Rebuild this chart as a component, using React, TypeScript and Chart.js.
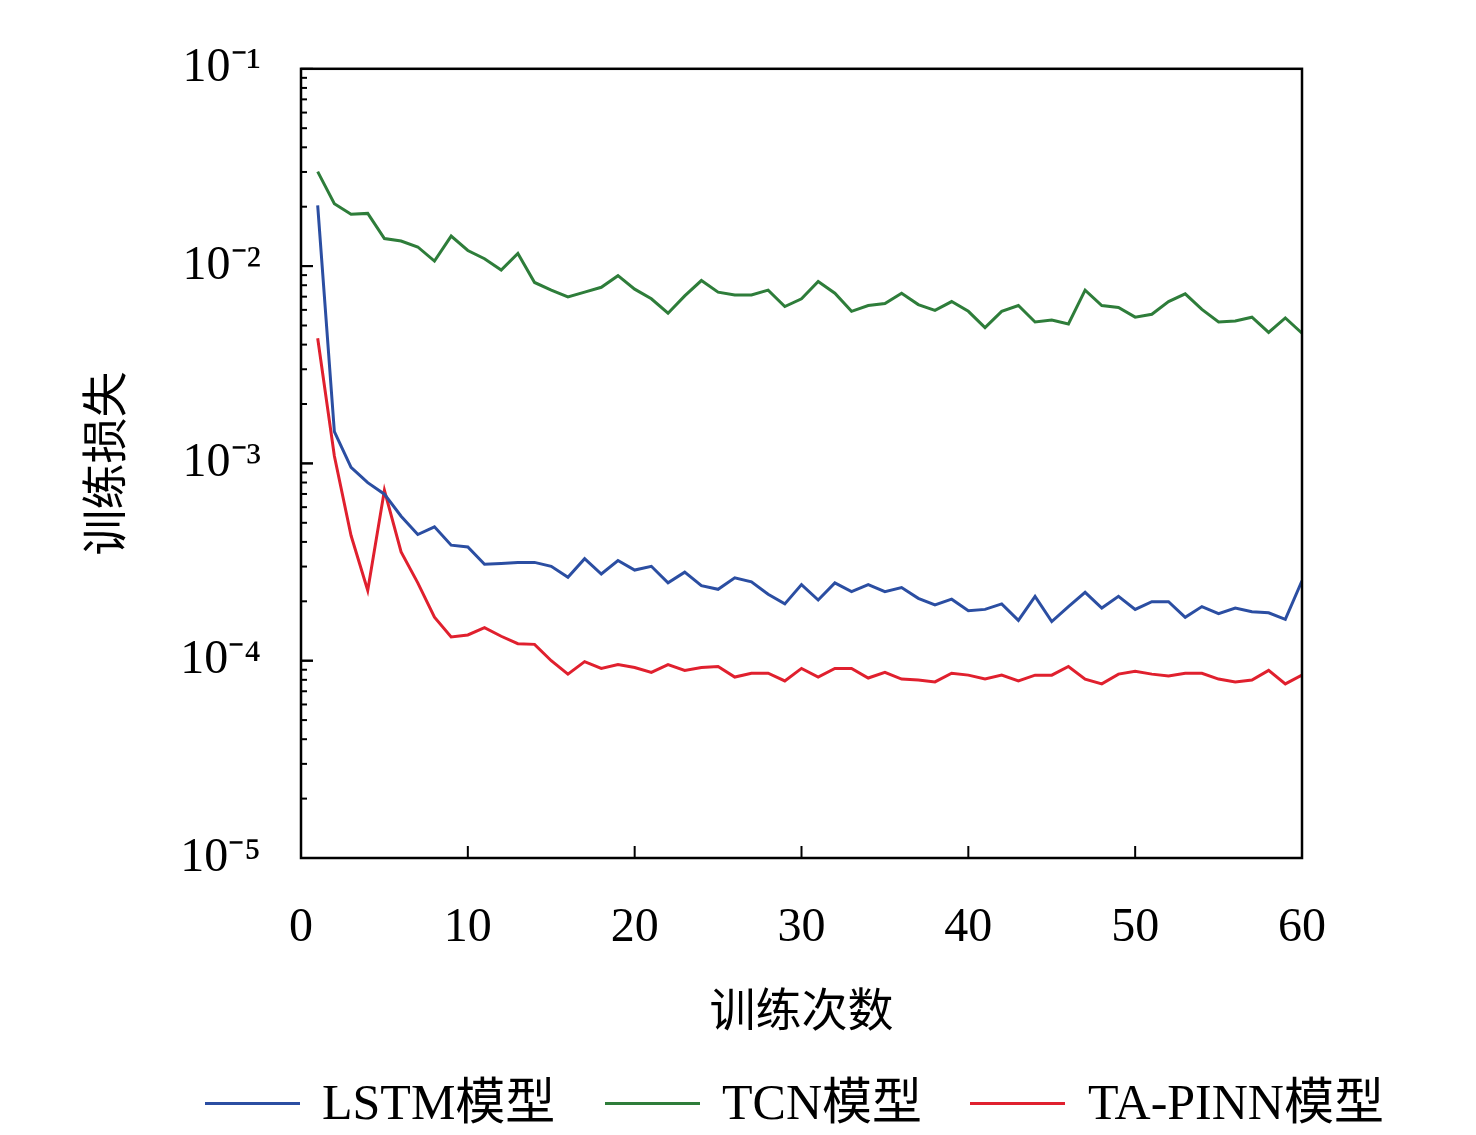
import React, { useEffect, useRef } from "react";
import { Chart, registerables } from "chart.js";
Chart.register(...registerables);

const epochs = Array.from({ length: 60 }, (_, i) => i + 1);
const lstm = [2.03e-2,1.45e-3,9.55e-4,7.99e-4,6.98e-4,5.4e-4,4.36e-4,4.77e-4,3.85e-4,3.77e-4,3.08e-4,3.11e-4,3.15e-4,3.15e-4,3.01e-4,2.65e-4,3.29e-4,2.75e-4,3.22e-4,2.88e-4,3.01e-4,2.48e-4,2.81e-4,2.4e-4,2.3e-4,2.63e-4,2.51e-4,2.17e-4,1.94e-4,2.43e-4,2.03e-4,2.48e-4,2.24e-4,2.43e-4,2.24e-4,2.35e-4,2.07e-4,1.92e-4,2.05e-4,1.79e-4,1.82e-4,1.94e-4,1.6e-4,2.12e-4,1.58e-4,1.88e-4,2.22e-4,1.85e-4,2.12e-4,1.82e-4,1.99e-4,1.99e-4,1.66e-4,1.88e-4,1.73e-4,1.85e-4,1.77e-4,1.75e-4,1.62e-4,2.54e-4];
const tcn = [3.01e-2,2.07e-2,1.83e-2,1.85e-2,1.38e-2,1.34e-2,1.25e-2,1.06e-2,1.42e-2,1.2e-2,1.09e-2,9.55e-3,1.16e-2,8.26e-3,7.55e-3,6.98e-3,7.38e-3,7.81e-3,8.94e-3,7.64e-3,6.83e-3,5.77e-3,7.06e-3,8.45e-3,7.38e-3,7.14e-3,7.14e-3,7.55e-3,6.24e-3,6.83e-3,8.36e-3,7.29e-3,5.9e-3,6.31e-3,6.46e-3,7.29e-3,6.38e-3,5.97e-3,6.61e-3,5.9e-3,4.88e-3,5.9e-3,6.31e-3,5.21e-3,5.33e-3,5.09e-3,7.55e-3,6.31e-3,6.17e-3,5.51e-3,5.7e-3,6.61e-3,7.23e-3,6.03e-3,5.21e-3,5.27e-3,5.51e-3,4.61e-3,5.46e-3,4.57e-3];
const tapinn = [4.31e-3,1.09e-3,4.31e-4,2.27e-4,7.3e-4,3.56e-4,2.48e-4,1.66e-4,1.32e-4,1.35e-4,1.47e-4,1.33e-4,1.22e-4,1.21e-4,1.0e-4,8.55e-5,9.89e-5,9.14e-5,9.55e-5,9.24e-5,8.73e-5,9.55e-5,8.93e-5,9.24e-5,9.35e-5,8.26e-5,8.64e-5,8.64e-5,7.9e-5,9.14e-5,8.26e-5,9.14e-5,9.14e-5,8.17e-5,8.73e-5,8.07e-5,7.98e-5,7.81e-5,8.64e-5,8.45e-5,8.07e-5,8.45e-5,7.9e-5,8.45e-5,8.45e-5,9.35e-5,8.07e-5,7.63e-5,8.55e-5,8.83e-5,8.55e-5,8.36e-5,8.64e-5,8.64e-5,8.07e-5,7.81e-5,7.98e-5,8.93e-5,7.63e-5,8.45e-5];
const seriesNames = ["LSTM模型", "TCN模型", "TA-PINN模型"];
const colors = ["#2b4ea2", "#2e7d3a", "#e0202e"];
const yMajor: Record<string, string> = { "0.1": "10⁻¹", "0.01": "10⁻²", "0.001": "10⁻³", "0.0001": "10⁻⁴", "0.00001": "10⁻⁵" };

const serif = "'Liberation Serif', 'Noto Sans CJK SC', serif";

const boxPlugin = {
  id: "box",
  afterDraw(chart: any) {
    const { ctx, chartArea: a, scales } = chart;
    ctx.save();
    ctx.strokeStyle = "#000";
    ctx.lineWidth = 2.5;
    ctx.strokeRect(a.left, a.top, a.right - a.left, a.bottom - a.top);
    ctx.lineWidth = 2;
    const y = scales.y;
    for (let e = -5; e < -1; e++) {
      for (let m = 1; m <= 10; m++) {
        const v = m * Math.pow(10, e);
        const py = y.getPixelForValue(v);
        const len = m === 1 || m === 10 ? 12 : 6;
        ctx.beginPath();
        ctx.moveTo(a.left, py);
        ctx.lineTo(a.left + len, py);
        ctx.stroke();
      }
    }
    const x = scales.x;
    for (let v = 10; v < 60; v += 10) {
      const px = x.getPixelForValue(v);
      ctx.beginPath();
      ctx.moveTo(px, a.bottom);
      ctx.lineTo(px, a.bottom - 12);
      ctx.stroke();
    }
    ctx.restore();
  },
};

export default function App() {
  const ref = useRef<HTMLCanvasElement>(null);
  useEffect(() => {
    const series = [lstm, tcn, tapinn];
    const chart = new Chart(ref.current!, {
      type: "line",
      data: {
        datasets: series.map((s, i) => ({
          label: seriesNames[i],
          data: s.map((v, j) => ({ x: epochs[j], y: v })),
          borderColor: colors[i],
          borderWidth: 3,
          pointRadius: 0,
          tension: 0,
        })),
      },
      options: {
        responsive: false,
        animation: false,
        layout: { padding: { left: 0, right: 174, top: 10, bottom: 77 } },
        plugins: { legend: { display: false }, tooltip: { enabled: false } },
        scales: {
          x: {
            type: "linear",
            min: 0,
            max: 60,
            grid: { display: false, drawTicks: false },
            border: { display: false },
            ticks: { stepSize: 10, padding: 42, color: "#000", font: { family: serif, size: 48 } },
            title: { display: true, text: "训练次数", color: "#000", font: { family: "'Noto Sans CJK SC'", size: 46 }, padding: { top: 0, bottom: 22 } },
            afterFit: (s: any) => { s.height = 200; },
          },
          y: {
            type: "logarithmic",
            min: 1e-5,
            max: 1e-1,
            grid: { display: false, drawTicks: false },
            border: { display: false },
            ticks: {
              padding: 40,
              color: "#000",
              font: { family: serif, size: 48 },
              autoSkip: false,
              callback: (v: any) => yMajor[String(Number(v))] ?? "",
            },
            afterBuildTicks: (s: any) => { s.ticks = [1e-5, 1e-4, 1e-3, 1e-2, 1e-1].map((v) => ({ value: v })); },
            title: { display: true, text: "训练损失", color: "#000", font: { family: "'Noto Sans CJK SC'", size: 46 }, padding: { top: 76, bottom: 0 } },
            afterFit: (s: any) => { s.width = 301; },
          },
        },
      },
      plugins: [boxPlugin],
    });
    return () => chart.destroy();
  }, []);
  const legendItems = [
    { line: 205, text: 322 },
    { line: 605, text: 722 },
    { line: 970, text: 1088 },
  ];
  return (
    <div style={{ position: "fixed", left: 0, top: 0, width: 1476, height: 1135, background: "#fff" }}>
      <canvas ref={ref} width={1476} height={1135} style={{ display: "block" }} />
      {legendItems.map((it, i) => (
        <React.Fragment key={i}>
          <div style={{ position: "absolute", left: it.line, top: 1102, width: 95, height: 3, background: colors[i] }} />
          <div style={{ position: "absolute", left: it.text, top: 1070, fontFamily: serif, fontSize: 50, lineHeight: "64px", color: "#000", whiteSpace: "nowrap" }}>{seriesNames[i]}</div>
        </React.Fragment>
      ))}
    </div>
  );
}
